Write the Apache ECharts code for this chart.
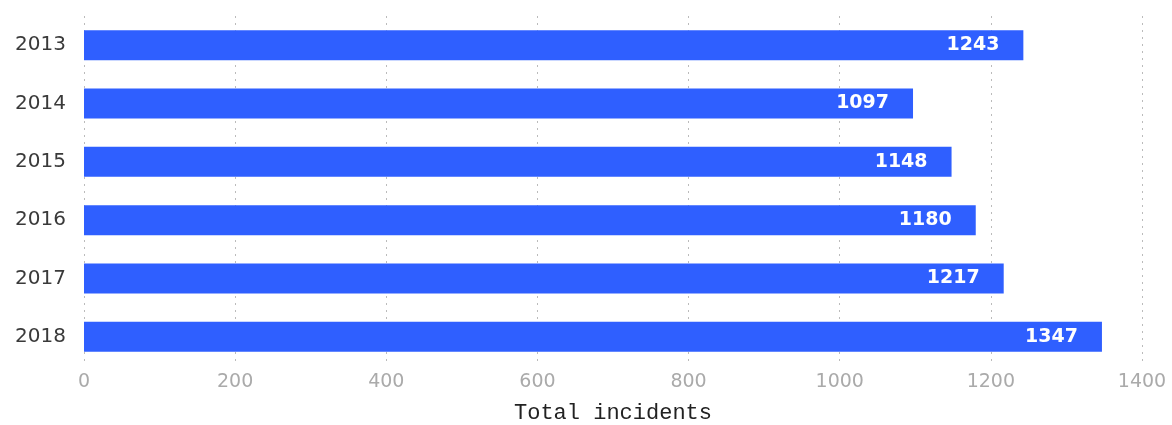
<!DOCTYPE html>
<html><head><meta charset="utf-8">
<script src="https://cdn.jsdelivr.net/npm/echarts@6/dist/echarts.min.js"></script>
<style>html,body{margin:0;padding:0;background:#fff}#c{width:1172px;height:425px}</style>
</head><body><div id="c"></div>
<script>
const years = ['2013','2014','2015','2016','2017','2018'];
const incidents = [1243, 1097, 1148, 1180, 1217, 1347];
const xTicks = {min: 0, max: 1400, interval: 200};
const xName = 'Total incidents';

const chart = echarts.init(document.getElementById('c'), null, {renderer: 'canvas'});
chart.setOption({
  animation: false,
  grid: {left: 84, right: 30, top: 16, height: 350, containLabel: false, outerBoundsMode: 'none'},
  xAxis: {
    type: 'value', min: xTicks.min, max: xTicks.max, interval: xTicks.interval,
    name: xName, nameLocation: 'middle', nameGap: 36,
    nameTextStyle: {fontFamily: 'Liberation Mono', fontSize: 22, color: '#222'},
    axisLine: {show: false}, axisTick: {show: false},
    axisLabel: {color: '#aaa', fontSize: 19, fontFamily: 'DejaVu Sans', margin: 7,
      formatter: v => String(v)},
    splitLine: {show: true, lineStyle: {color: '#bbb', type: [2, 5], width: 1}}
  },
  yAxis: {
    type: 'category', data: years, inverse: true,
    axisLine: {show: false}, axisTick: {show: false},
    axisLabel: {color: '#3a3a3a', fontSize: 20, fontFamily: 'DejaVu Sans', margin: 18}
  },
  series: [{
    type: 'bar', data: incidents, barWidth: 30,
    itemStyle: {color: '#2f5fff'},
    label: {show: true, position: 'insideRight', distance: 24, color: '#fff',
      fontFamily: 'DejaVu Sans', fontWeight: 'bold', fontSize: 19}
  }]
});
</script></body></html>
